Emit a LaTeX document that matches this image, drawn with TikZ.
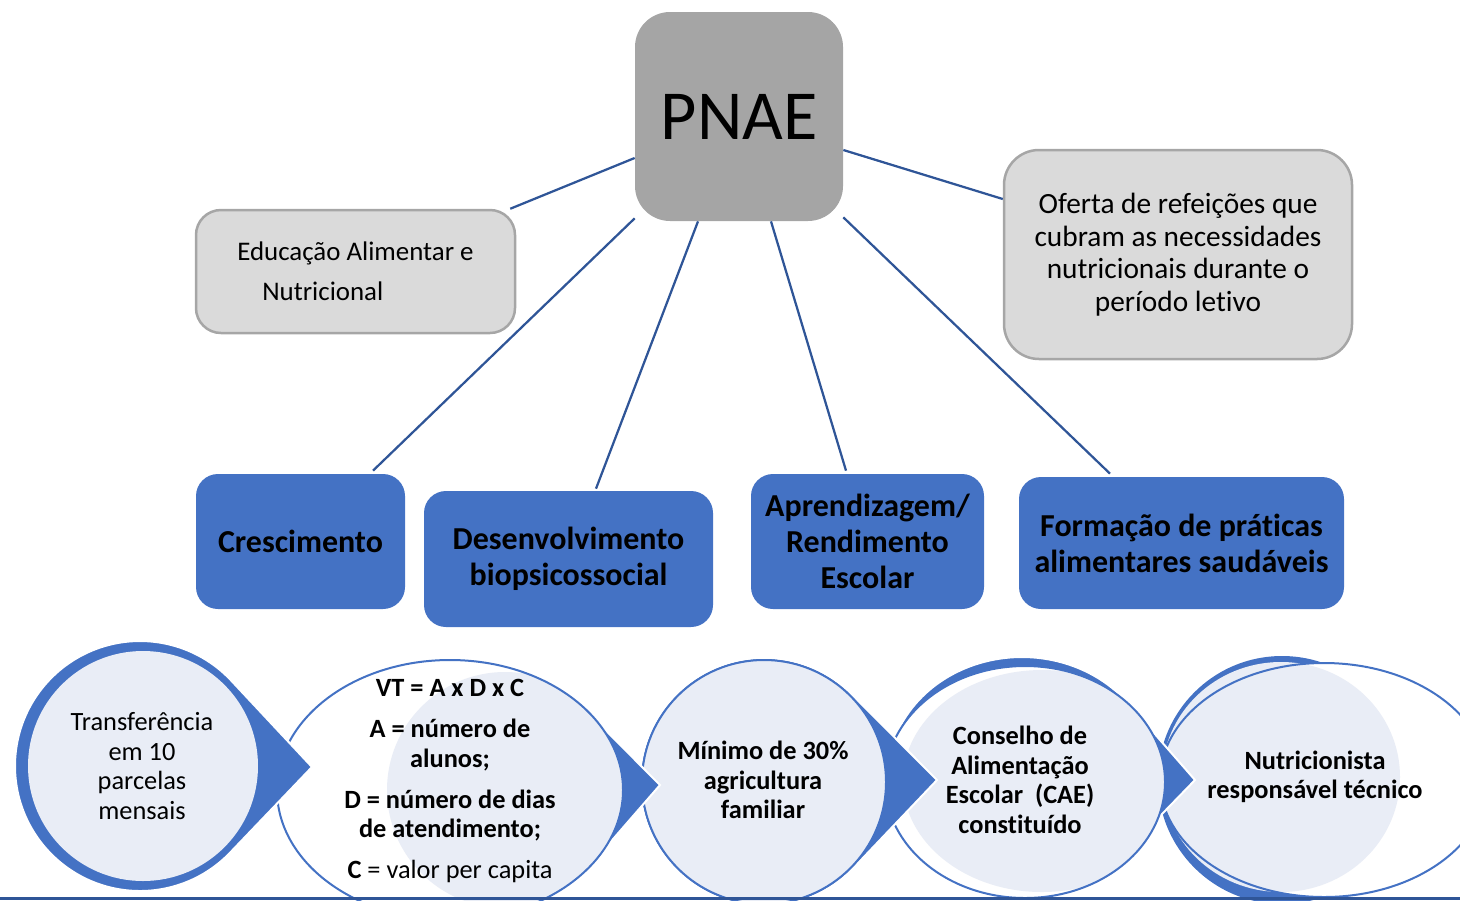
\documentclass[tikz,border=0pt]{standalone}
\usepackage{fontspec}
\setmainfont{Carlito}[Ligatures=NoCommon]
\usetikzlibrary{calc}

\definecolor{pnaeblue}{RGB}{68,114,196}
\definecolor{linkblue}{RGB}{47,85,151}
\definecolor{palefill}{RGB}{233,237,246}
\definecolor{boxgray}{RGB}{218,218,218}
\definecolor{edgegray}{RGB}{166,166,166}
\definecolor{headgray}{RGB}{165,165,165}

\begin{document}
\begin{tikzpicture}[x=0.2mm, y=-0.2mm,
    link/.style={draw=linkblue, line width=0.45mm},
    infobox/.style={rectangle, rounded corners=5mm, fill=boxgray, draw=edgegray, line width=0.5mm, inner sep=0pt},
    goalbox/.style={rectangle, rounded corners=4.4mm, fill=pnaeblue, inner sep=0pt, align=center, font=\fontsize{18.2}{20.5}\selectfont\bfseries},
    tear/.style={fill=pnaeblue, draw=white, line width=0.4mm},
    rim/.style={draw=pnaeblue, line width=0.4mm},
    steptext/.style={align=center, font=\fontsize{15}{16.8}\selectfont},
    boldstep/.style={align=center, font=\fontsize{15}{16.8}\selectfont\bfseries}
  ]
  \useasboundingbox (0,0) rectangle (1460,900); % page = 1460 x 900 px

  \node[rectangle, rounded corners=7mm, fill=headgray, minimum width=41.6mm, minimum height=41.8mm,
    font=\fontsize{40}{42}\selectfont] (pnae) at (739,116.5) {PNAE};
  \node[infobox, minimum width=63.8mm, minimum height=24.6mm, align=left,
    font=\fontsize{15.3}{22.8}\selectfont] (edu) at (355.5,271.5) {Educação Alimentar e\\\hspace*{5mm}Nutricional};
  \node[infobox, rounded corners=7mm, minimum width=69.6mm, minimum height=41.8mm, align=center,
    font=\fontsize{16.7}{18.5}\selectfont] (ofe) at (1178,254.5)
    {Oferta de refeições que\\cubram as necessidades\\nutricionais durante o\\período letivo};

  \node[goalbox, minimum width=41.8mm, minimum height=27mm] (cres) at (300.5,541.5) {Crescimento};
  \node[goalbox, minimum width=57.8mm, minimum height=27.2mm] (desen) at (568.5,559) {Desenvolvimento\\biopsicossocial};
  \node[goalbox, minimum width=46.6mm, minimum height=27mm] (aprend) at (867.5,541.5) {Aprendizagem/\\Rendimento\\Escolar};
  \node[goalbox, minimum width=65mm, minimum height=26.4mm] (form) at (1181.5,543) {Formação de práticas\\alimentares saudáveis};

  \draw[link] ($(pnae.west)+(0,41.5)$) -- ($(edu.north east)+(-6,0)$);
  \draw[link] ($(pnae.east)+(0,33.5)$) -- ($(ofe.west)+(0,-55.5)$);
  \draw[link] ($(pnae.south west)+(0,-3)$) -- ($(cres.north)+(72.5,-3)$);
  \draw[link] ($(pnae.south)+(-41,0)$) -- ($(desen.north)+(27.5,-2)$);
  \draw[link] ($(pnae.south)+(32,0)$) -- ($(aprend.north)+(-21.5,-3)$);
  \draw[link] ($(pnae.south east)+(0,-4)$) -- ($(form.north)+(-71.5,-3)$);

  % process row, drawn right to left so each tip lies on the next circle
  \fill[pnaeblue] (1282,780) circle[radius=124];
  \fill[white] (1324,780) ellipse[x radius=164, y radius=117];
  \fill[palefill] (1281,777) ellipse[x radius=119, y radius=115];
  \draw[rim] (1324,780) ellipse[x radius=164, y radius=117];
  \node[boldstep] (nutri) at (1315,777) {Nutricionista\\responsável técnico};

  \filldraw[tear] ($(1022,776)+(40:134 and 119)$) arc[start angle=40, end angle=320, x radius=134, y radius=119] -- (1195,780) -- cycle;
  \fill[white] (1025,782) ellipse[x radius=140, y radius=116];
  \begin{scope}
    \clip (1025,782) ellipse[x radius=140, y radius=116];
    \fill[palefill] (1042,781) ellipse[x radius=139, y radius=111];
  \end{scope}
  \draw[rim] (1025,782) ellipse[x radius=140, y radius=116];
  \node[boldstep] (cae) at (1020,780) {Conselho de\\Alimentação\\Escolar~ (CAE)\\constituído};

  \filldraw[tear] ($(764,782)+(44:124)$) arc[start angle=44, end angle=316, radius=124] -- (937,780) -- cycle;
  \filldraw[rim, fill=palefill] (764,782) circle[radius=122];
  \node[boldstep] (agri) at (763,780) {Mínimo de 30\%\\agricultura\\familiar};

  \filldraw[tear] ($(450,790)+(35:172 and 130)$) arc[start angle=35, end angle=325, x radius=172, y radius=130] -- (660,785) -- cycle;
  \fill[white] (450,790) ellipse[x radius=173, y radius=130];
  \begin{scope}
    \clip (450,790) ellipse[x radius=173, y radius=130];
    \fill[palefill] (505,790) circle[radius=118];
  \end{scope}
  \draw[rim] (450,790) ellipse[x radius=173, y radius=130];
  \node[boldstep] (calc) at (450,781) {VT = A x D x C\\[6.5pt]A = número de\\alunos;\\[6.5pt]D = número de dias\\de atendimento;\\[6.5pt]C {\mdseries = valor per capita}};

  \filldraw[tear] ($(140,766)+(44:125)$) arc[start angle=44, end angle=316, radius=125] -- (312,767) -- cycle;
  \fill[palefill] (143,766) circle[radius=115];
  \node[steptext] (transf) at (142,766) {Transferência\\em 10\\parcelas\\mensais};

  \draw[linkblue, line width=0.6mm] (0,898.5) -- (1460,898.5);
\end{tikzpicture}
\end{document}
